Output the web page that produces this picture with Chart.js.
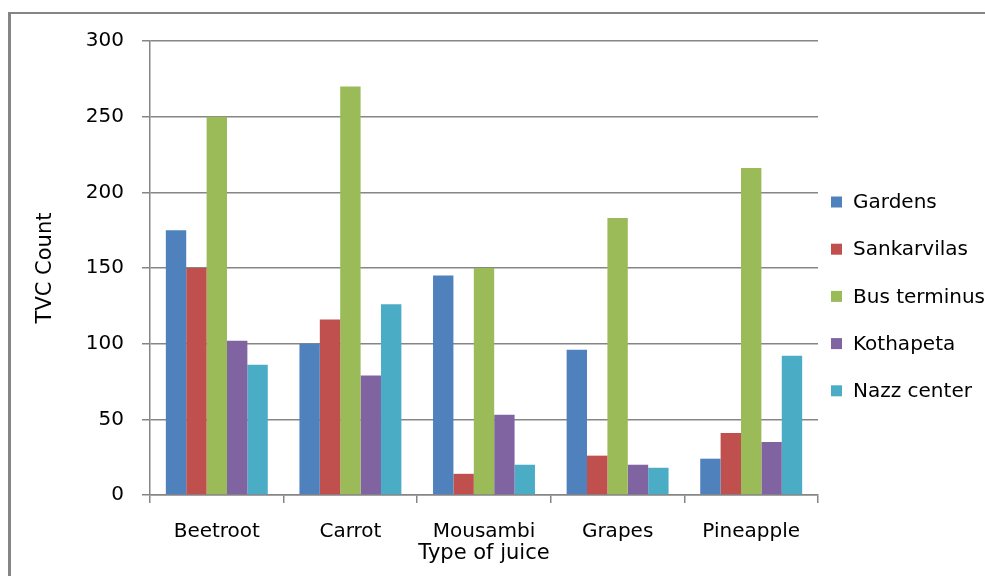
<!DOCTYPE html>
<html>
<head>
<meta charset="utf-8">
<script src="https://cdn.jsdelivr.net/npm/chart.js@4/dist/chart.umd.min.js"></script>
<style>
  html, body { margin: 0; padding: 0; background: #fff; overflow: hidden; }
  #wrap { position: relative; width: 985px; height: 576px; overflow: hidden; }
  #frame {
    position: absolute; left: 8px; top: 12px; width: 1200px; height: 800px;
    border-left: 3px solid #858585; border-top: 2px solid #858585;
    box-sizing: border-box; pointer-events: none;
  }
  canvas { position: absolute; left: 0; top: 0; }
</style>
</head>
<body>
<div id="wrap">
  <canvas id="chart" width="985" height="576"></canvas>
  <div id="frame"></div>
</div>
<script>
// Juice types on the x axis
const categories = ['Beetroot', 'Carrot', 'Mousambi', 'Grapes', 'Pineapple'];

// TVC counts per sampling site
const gardens     = [175, 100, 145, 96, 24];
const sankarvilas = [150, 116, 14, 26, 41];
const busTerminus = [250, 270, 150, 183, 216];
const kothapeta   = [102, 79, 53, 20, 35];
const nazzCenter  = [86, 126, 20, 18, 92];

const seriesNames = ['Gardens', 'Sankarvilas', 'Bus terminus', 'Kothapeta', 'Nazz center'];
const seriesColors = ['#4F81BD', '#C0504D', '#9BBB59', '#8064A2', '#4BACC6'];

// y axis ticks
const yTicks = [0, 50, 100, 150, 200, 250, 300];

const FONT = 'DejaVu Sans';
const AXIS_GREY = '#868686';

const values = [gardens, sankarvilas, busTerminus, kothapeta, nazzCenter];
const datasets = values.map((v, i) => ({
  label: seriesNames[i],
  data: v,
  backgroundColor: seriesColors[i],
  borderWidth: 0,
  categoryPercentage: 0.763,
  barPercentage: 1.0
}));

// Legend drawn at the right of the plot, one row per site
const sideLegend = {
  id: 'sideLegend',
  afterDraw(chart) {
    const ctx = chart.ctx;
    ctx.save();
    ctx.font = '20px "' + FONT + '"';
    ctx.textBaseline = 'middle';
    ctx.textAlign = 'left';
    const x0 = 831, y0 = 202, step = 47.2, box = 11;
    chart.data.datasets.forEach((ds, i) => {
      const y = y0 + i * step;
      ctx.fillStyle = ds.backgroundColor;
      ctx.fillRect(x0, y - box / 2, box, box);
      ctx.fillStyle = '#000';
      ctx.fillText(ds.label, x0 + 22, y + 1);
    });
    ctx.restore();
  }
};

new Chart(document.getElementById('chart'), {
  type: 'bar',
  data: { labels: categories, datasets },
  options: {
    responsive: false,
    animation: false,
    devicePixelRatio: 1,
    layout: { padding: { left: 24, top: 41, right: 167, bottom: 0 } },
    plugins: {
      legend: { display: false },
      tooltip: { enabled: false }
    },
    scales: {
      x: {
        afterFit(scale) { scale.height = 81; },
        grid: {
          display: true,
          offset: true,
          drawOnChartArea: false,
          drawTicks: true,
          tickLength: 8,
          color: AXIS_GREY,
          lineWidth: 1.5
        },
        border: { display: true, color: AXIS_GREY, width: 1.5 },
        ticks: {
          color: '#000',
          padding: 17,
          font: { family: FONT, size: 20 }
        },
        title: {
          display: true,
          text: 'Type of juice',
          color: '#000',
          font: { family: FONT, size: 21 },
          padding: { top: 0, bottom: 10 }
        }
      },
      y: {
        min: 0,
        max: 300,
        afterFit(scale) { scale.width = 126; },
        afterBuildTicks(scale) { scale.ticks = yTicks.map(v => ({ value: v })); },
        grid: {
          color: AXIS_GREY,
          lineWidth: 1.5,
          drawTicks: true,
          tickLength: 8
        },
        border: { display: true, color: AXIS_GREY, width: 1.5 },
        ticks: {
          color: '#000',
          padding: 18,
          font: { family: FONT, size: 20 }
        },
        title: {
          display: true,
          text: 'TVC Count',
          color: '#000',
          font: { family: FONT, size: 21 },
          padding: { top: 9, bottom: 0 }
        }
      }
    }
  },
  plugins: [sideLegend]
});
</script>
</body>
</html>
